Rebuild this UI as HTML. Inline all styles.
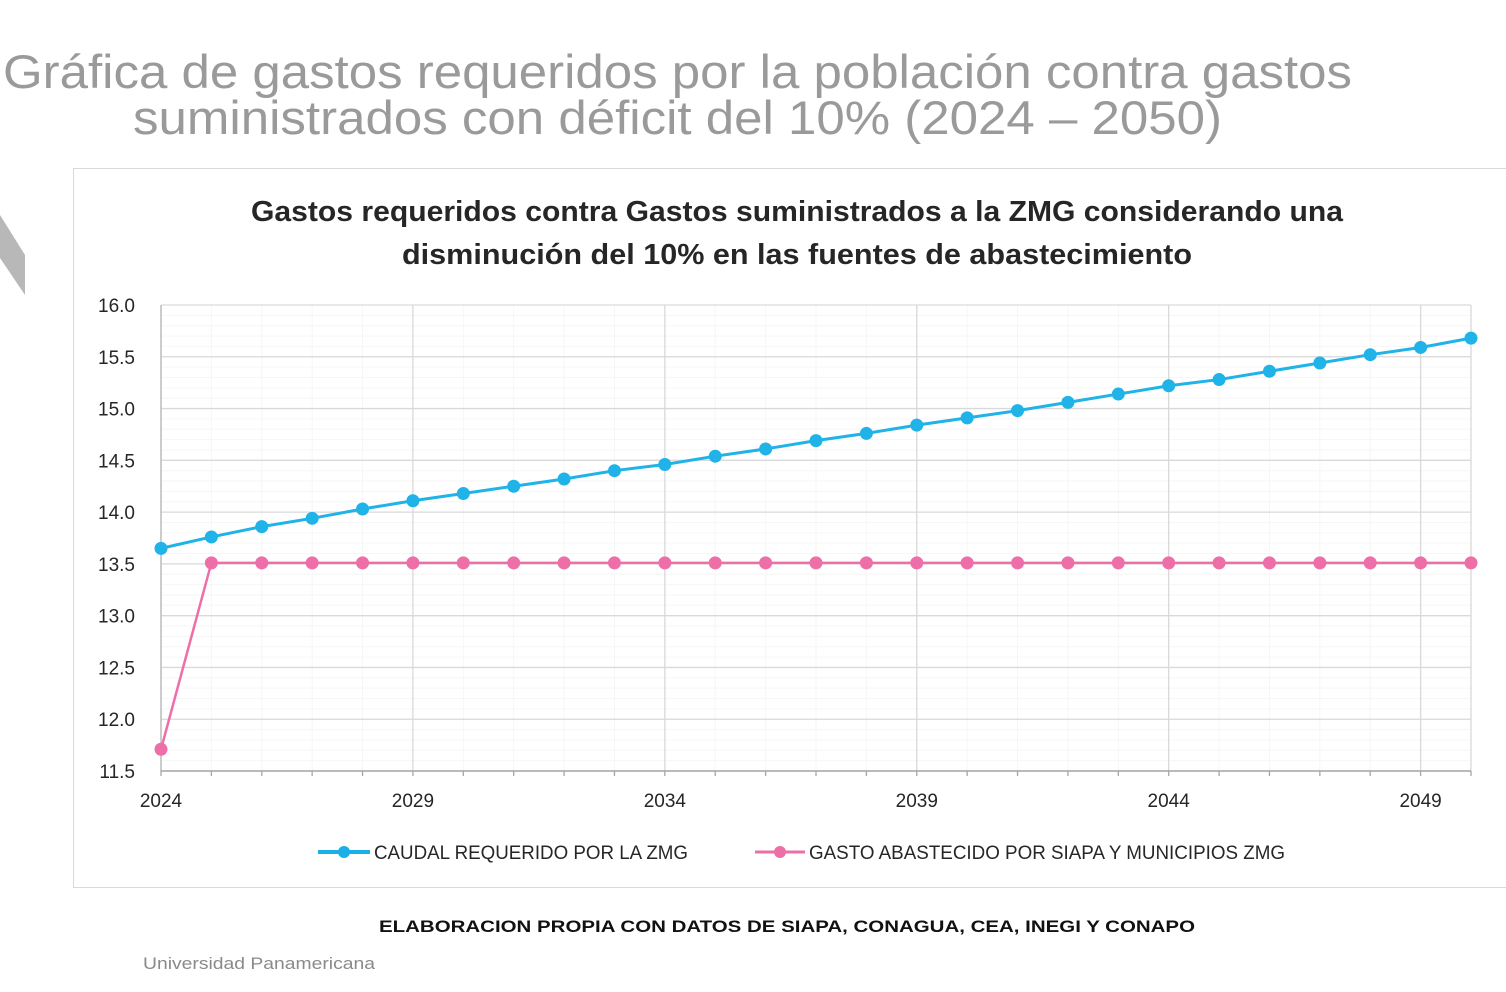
<!DOCTYPE html>
<html><head><meta charset="utf-8"><style>
html,body{margin:0;padding:0;background:#fff;}
svg{display:block;font-family:"Liberation Sans",sans-serif;}
</style></head><body>
<svg id="c" width="1506" height="992" viewBox="0 0 1506 992" xmlns="http://www.w3.org/2000/svg">
<text x="3" y="88" font-size="47" fill="#9a9a9a" textLength="1349" lengthAdjust="spacingAndGlyphs">Gráfica de gastos requeridos por la población contra gastos</text>
<text x="133" y="134" font-size="47" fill="#9a9a9a" textLength="1089" lengthAdjust="spacingAndGlyphs">suministrados con déficit del 10% (2024 – 2050)</text>
<polygon points="0,215 25,255 25,295 0,258" fill="#b8b8b8"/>
<rect x="73.5" y="168.5" width="1440" height="719" fill="#fff" stroke="#d9d9d9"/>
<text x="797" y="221" font-size="29" font-weight="bold" fill="#262626" text-anchor="middle" textLength="1092" lengthAdjust="spacingAndGlyphs">Gastos requeridos contra Gastos suministrados a la ZMG considerando una</text>
<text x="797" y="264" font-size="29" font-weight="bold" fill="#262626" text-anchor="middle" textLength="790" lengthAdjust="spacingAndGlyphs">disminución del 10% en las fuentes de abastecimiento</text>
<g id="grid"></g><g id="axes"></g><g id="series"></g>
<g>
<line x1="318" y1="852" x2="370" y2="852" stroke="#1aafe6" stroke-width="4"/><circle cx="344" cy="852" r="6" fill="#1aafe6"/>
<text x="374" y="859" font-size="19" fill="#262626" textLength="314" lengthAdjust="spacingAndGlyphs">CAUDAL REQUERIDO POR LA ZMG</text>
<line x1="755" y1="852" x2="805" y2="852" stroke="#ee6fa8" stroke-width="3"/><circle cx="780" cy="852" r="6" fill="#ee6fa8"/>
<text x="809" y="859" font-size="19" fill="#262626" textLength="476" lengthAdjust="spacingAndGlyphs">GASTO ABASTECIDO POR SIAPA Y MUNICIPIOS ZMG</text>
</g>
<text x="787" y="932" font-size="17" font-weight="bold" fill="#111" text-anchor="middle" textLength="816" lengthAdjust="spacingAndGlyphs">ELABORACION PROPIA CON DATOS DE SIAPA, CONAGUA, CEA, INEGI Y CONAPO</text>
<text x="143" y="969" font-size="17" fill="#8a8a8a" textLength="232" lengthAdjust="spacingAndGlyphs">Universidad Panamericana</text>
</svg>
<script>
const years=[2024,2025,2026,2027,2028,2029,2030,2031,2032,2033,2034,2035,2036,2037,2038,2039,2040,2041,2042,2043,2044,2045,2046,2047,2048,2049,2050];
const caudal=[13.65,13.76,13.86,13.94,14.03,14.11,14.18,14.25,14.32,14.40,14.46,14.54,14.61,14.69,14.76,14.84,14.91,14.98,15.06,15.14,15.22,15.28,15.36,15.44,15.52,15.59,15.68];
const gasto=[11.71,13.51,13.51,13.51,13.51,13.51,13.51,13.51,13.51,13.51,13.51,13.51,13.51,13.51,13.51,13.51,13.51,13.51,13.51,13.51,13.51,13.51,13.51,13.51,13.51,13.51,13.51];
const yTicks=[11.5,12.0,12.5,13.0,13.5,14.0,14.5,15.0,15.5,16.0];
const xTickLabels=[2024,2029,2034,2039,2044,2049];
const X0=161,X1=1471,Y0=771,Y1=305,yMin=11.5,yMax=16.0,xMin=2024,xMax=2050;
const sx=v=>X0+(v-xMin)/(xMax-xMin)*(X1-X0);
const sy=v=>Y0-(v-yMin)/(yMax-yMin)*(Y0-Y1);
const NS="http://www.w3.org/2000/svg";
function mk(t,a,p){const e=document.createElementNS(NS,t);for(const k in a)e.setAttribute(k,a[k]);p.appendChild(e);return e;}
const grid=document.getElementById('grid'),axes=document.getElementById('axes'),ser=document.getElementById('series');
for(let v=yMin;v<yMax;v+=0.1){const l=mk('line',{x1:X0,x2:X1,y1:sy(v),y2:sy(v),stroke:'#f6f6f6','stroke-width':1},grid);

}
years.forEach(y=>{const l=mk('line',{x1:sx(y),x2:sx(y),y1:Y1,y2:Y0,stroke:'#f6f6f6','stroke-width':1},grid);

});
yTicks.forEach(v=>{const l=mk('line',{x1:X0,x2:X1,y1:sy(v),y2:sy(v),stroke:'#d9d9d9','stroke-width':1.3},grid);


const t=mk('text',{x:135,y:sy(v)+7,'font-size':19,fill:'#262626','text-anchor':'end'},axes);t.textContent=v.toFixed(1);

});
xTickLabels.forEach(v=>{const l=mk('line',{x1:sx(v),x2:sx(v),y1:Y1,y2:Y0,stroke:'#d9d9d9','stroke-width':1.3},grid);


const t=mk('text',{x:sx(v),y:807,'font-size':19,fill:'#262626','text-anchor':'middle'},axes);t.textContent=v;

});
const rl=mk('line',{x1:X1,x2:X1,y1:Y1,y2:Y0,stroke:'#d9d9d9','stroke-width':1.3},grid);


const ya=mk('line',{x1:X0,x2:X0,y1:Y1,y2:Y0,stroke:'#bfbfbf','stroke-width':1.5},axes);


const xa=mk('line',{x1:X0,x2:X1,y1:Y0,y2:Y0,stroke:'#a6a6a6','stroke-width':1.5},axes);


years.forEach(y=>{const l=mk('line',{x1:sx(y),x2:sx(y),y1:Y0,y2:Y0+5,stroke:'#a6a6a6','stroke-width':1.3},axes);

});
function draw(vals,color,w,name){
const p=mk('polyline',{points:vals.map((v,i)=>sx(years[i])+','+sy(v)).join(' '),fill:'none',stroke:color,'stroke-width':w},ser);


vals.forEach((v,i)=>{const c=mk('circle',{cx:sx(years[i]),cy:sy(v),r:6.5,fill:color},ser);

});}
draw(caudal,'#1fb3e8',3,'caudal');
draw(gasto,'#ee6fa8',2.5,'gasto');
</script>
</body></html>
